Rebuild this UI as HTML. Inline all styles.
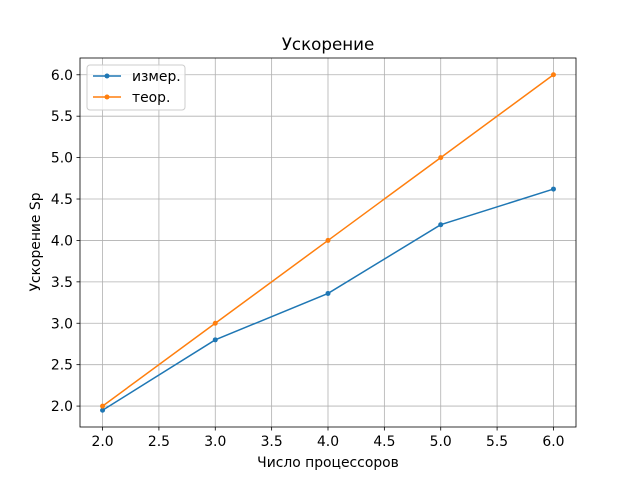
<!DOCTYPE html>
<html><head><meta charset="utf-8"><style>
body{margin:0;background:#fff}
text{font-family:"DejaVu Sans","Liberation Sans",sans-serif}
</style></head><body>
<svg id="chart" width="640" height="480" xmlns="http://www.w3.org/2000/svg">
<rect width="640" height="480" fill="#fff"/>
<g id="grid"></g>
<g id="series"></g>
<rect x="80" y="58" width="496" height="369" fill="none" stroke="#000" stroke-width="0.8"/>
<g id="ticks"></g>
<text x="328" y="50" text-anchor="middle" font-size="16.7">Ускорение</text>
<text x="328" y="467" text-anchor="middle" font-size="13.9">Число процессоров</text>
<text transform="translate(40,242) rotate(-90)" text-anchor="middle" font-size="13.9">Ускорение Sp</text>
<g>
<rect x="87" y="65" width="98" height="45" rx="3" fill="#fff" fill-opacity="0.8" stroke="#ccc"/>
<g>
<line x1="93" y1="76" x2="121" y2="76" stroke="#1f77b4" stroke-width="1.5"/><circle cx="107" cy="76" r="2.5" fill="#1f77b4"/>
<text x="132" y="81" font-size="13.9">измер.</text></g>
<g>
<line x1="93" y1="97" x2="121" y2="97" stroke="#ff7f0e" stroke-width="1.5"/><circle cx="107" cy="97" r="2.5" fill="#ff7f0e"/>
<text x="132" y="102" font-size="13.9">теор.</text></g>
</g>
</svg>
<script>
const categories=[2,3,4,5,6];
const measured=[1.95,2.80,3.36,4.19,4.62];
const theoretical=[2,3,4,5,6];
const xTicks=["2.0","2.5","3.0","3.5","4.0","4.5","5.0","5.5","6.0"];
const yTicks=["2.0","2.5","3.0","3.5","4.0","4.5","5.0","5.5","6.0"];
const X=v=>80+(v-1.8)/(4.4)*496;
const Y=v=>427-(v-1.7475)/(4.455)*369;
const NS="http://www.w3.org/2000/svg";
function mk(t,a,p){const e=document.createElementNS(NS,t);for(const k in a)e.setAttribute(k,a[k]);p.appendChild(e);return e;}
const grid=document.getElementById('grid'),ticks=document.getElementById('ticks'),ser=document.getElementById('series');
xTicks.forEach(s=>{const x=X(+s);
const g=mk('line',{x1:x,x2:x,y1:58,y2:427,stroke:'#b0b0b0','stroke-width':0.8},grid);


mk('line',{x1:x,x2:x,y1:427,y2:430.5,stroke:'#000','stroke-width':0.8},ticks);
const t=mk('text',{x:x,y:446,'text-anchor':'middle','font-size':13.9},ticks);t.textContent=s;

});
yTicks.forEach(s=>{const y=Y(+s);
const g=mk('line',{x1:80,x2:576,y1:y,y2:y,stroke:'#b0b0b0','stroke-width':0.8},grid);


mk('line',{x1:76.5,x2:80,y1:y,y2:y,stroke:'#000','stroke-width':0.8},ticks);
const t=mk('text',{x:73,y:y+5,'text-anchor':'end','font-size':13.9},ticks);t.textContent=s;

});
function draw(vals,color,name){
const pl=mk('polyline',{points:categories.map((c,i)=>X(c)+','+Y(vals[i])).join(' '),fill:'none',stroke:color,'stroke-width':1.5},ser);


categories.forEach((c,i)=>{const p=mk('circle',{cx:X(c),cy:Y(vals[i]),r:2.5,fill:color},ser);

});}
draw(measured,'#1f77b4','measured');
draw(theoretical,'#ff7f0e','theoretical');
</script>
</body></html>
